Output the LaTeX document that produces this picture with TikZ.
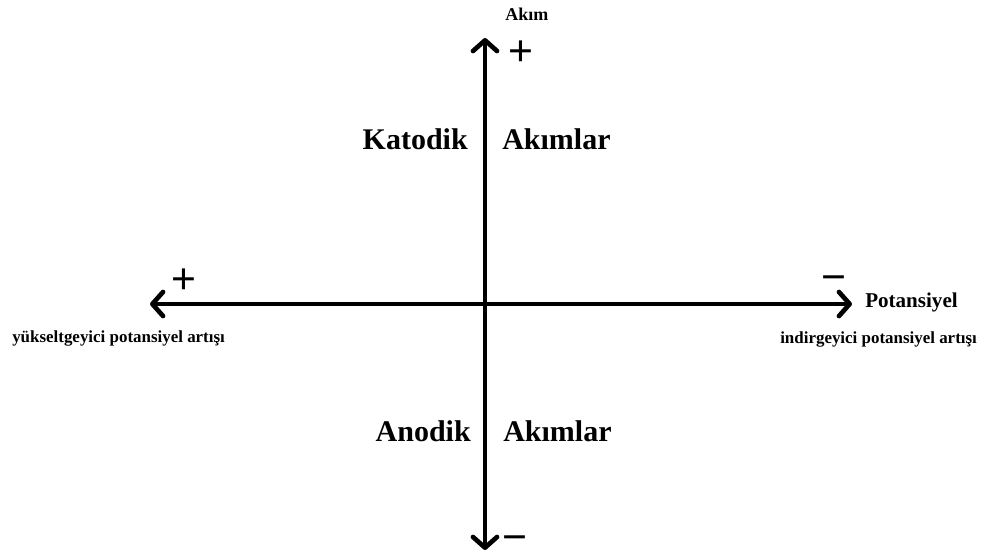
\documentclass[tikz,border=0pt]{standalone}
\usepackage{fontspec}
\setmainfont{Liberation Serif}
\newfontfamily\signfont{Liberation Sans}
\usetikzlibrary{arrows.meta}

\tikzset{
  axis/.style={line width=3.5pt,
    {Straight Barb[length=8pt,width=18pt,round]}-{Straight Barb[length=8pt,width=18pt,round]}},
  bigword/.style={inner sep=0pt, font=\fontsize{22.5}{27}\selectfont\bfseries},
  smallword/.style={inner sep=0pt, font=\fontsize{12.7}{15}\selectfont\bfseries},
  sign/.style={inner sep=0pt, font=\fontsize{32}{36}\selectfont\signfont}
}

\begin{document}
\begin{tikzpicture}[x=0.75pt, y=-0.75pt]
\useasboundingbox (0, 0) rectangle (985, 558);
% axes
\coordinate (top) at (485, 38);
\coordinate (bottom) at (485, 550);
\coordinate (left) at (150, 304);
\coordinate (right) at (852, 304);
\draw[axis] (bottom) -- (top);
\draw[axis] (left) -- (right);
% axis names
\node[smallword, anchor=base west, font=\fontsize{13.5}{16}\selectfont\bfseries] (akim) at (505, 20) {Akım};
\node[smallword, anchor=base west, font=\fontsize{15.8}{19}\selectfont\bfseries] (potansiyel) at (865, 307) {Potansiyel};
\node[smallword, anchor=base west] (yukselt) at (12, 342) {yükseltgeyici potansiyel artışı};
\node[smallword, anchor=base west] (indirge) at (780, 343) {indirgeyici potansiyel artışı};
% quadrants
\node[bigword, anchor=base east] (katodik) at (468, 149) {Katodik};
\node[bigword, anchor=base west] (akimlarust) at (502, 149) {Akımlar};
\node[bigword, anchor=base east] (anodik) at (471, 441) {Anodik};
\node[bigword, anchor=base west] (akimlaralt) at (503, 441) {Akımlar};
% signs
\node[sign] (plusup) at (521, 53) {+};
\node[sign] (plusleft) at (184, 281) {+};
\node[sign, anchor=base, text depth=0pt] (minusright) at (834, 291) {−};
\node[sign, anchor=base, text depth=0pt] (minusdown) at (515, 551) {−};
\end{tikzpicture}
\end{document}
